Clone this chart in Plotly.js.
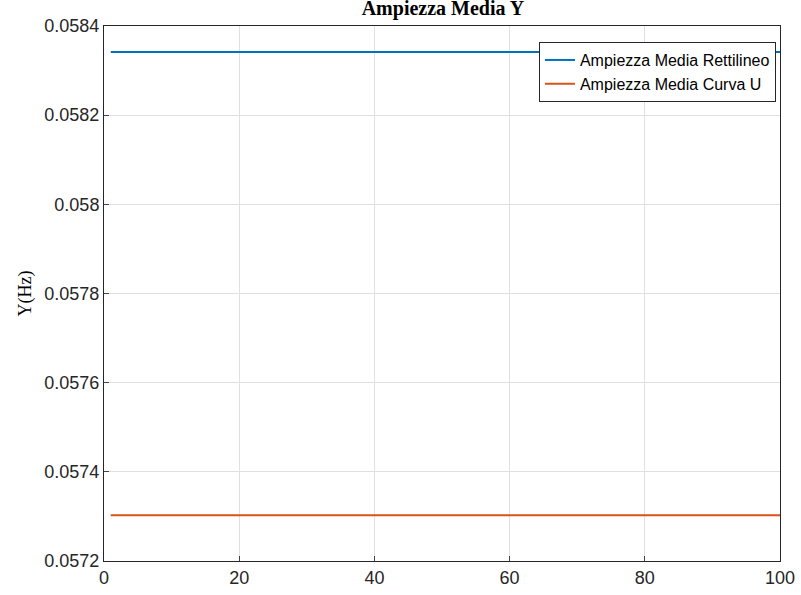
<html><head><script src="https://cdn.plot.ly/plotly-3.0.1.min.js"></script></head><body style="margin:0">
<div id="c" style="width:801px;height:595px"></div>
<script>
const xs = Array.from({length:100},(_,i)=>i+1);
const rettilineo = 0.0583417;
const curvaU = 0.0573025;
const names = ['Ampiezza Media Rettilineo','Ampiezza Media Curva U'];
const colors = ['#0072BD','#D95319'];
const data = [rettilineo, curvaU].map((v,k)=>({x:xs,y:xs.map(()=>v),type:'scatter',mode:'lines',name:names[k],line:{color:colors[k],width:2}}));
Plotly.newPlot('c',data,{
 width:801,height:595,paper_bgcolor:'#fff',plot_bgcolor:'#fff',
 margin:{l:104,r:21,t:26,b:34},
 title:{text:'<b>Ampiezza Media Y</b>',font:{family:'Liberation Serif',size:20,color:'#000'},x:0.553,xanchor:'center',y:0.998,yanchor:'top'},
 xaxis:{range:[0,100],dtick:20,showgrid:true,gridcolor:'#e0e0e0',zeroline:false,showline:true,linecolor:'#262626',mirror:true,ticks:'inside',ticklen:5,tickfont:{family:'Liberation Sans',size:18,color:'#262626'}},
 yaxis:{range:[0.0572,0.0584],dtick:0.0002,showgrid:true,gridcolor:'#e0e0e0',zeroline:false,showline:true,linecolor:'#262626',mirror:true,ticks:'inside',ticklen:5,tickfont:{family:'Liberation Sans',size:18,color:'#262626'},
  title:{text:'Y(Hz)',font:{family:'Liberation Serif',size:18,color:'#000'},standoff:8}},
 legend:{x:0.994,xanchor:'right',y:0.97,yanchor:'top',bgcolor:'#fff',bordercolor:'#262626',borderwidth:1,font:{family:'Liberation Sans',size:16,color:'#000'}},
 showlegend:true
},{displayModeBar:false});
</script></body></html>
